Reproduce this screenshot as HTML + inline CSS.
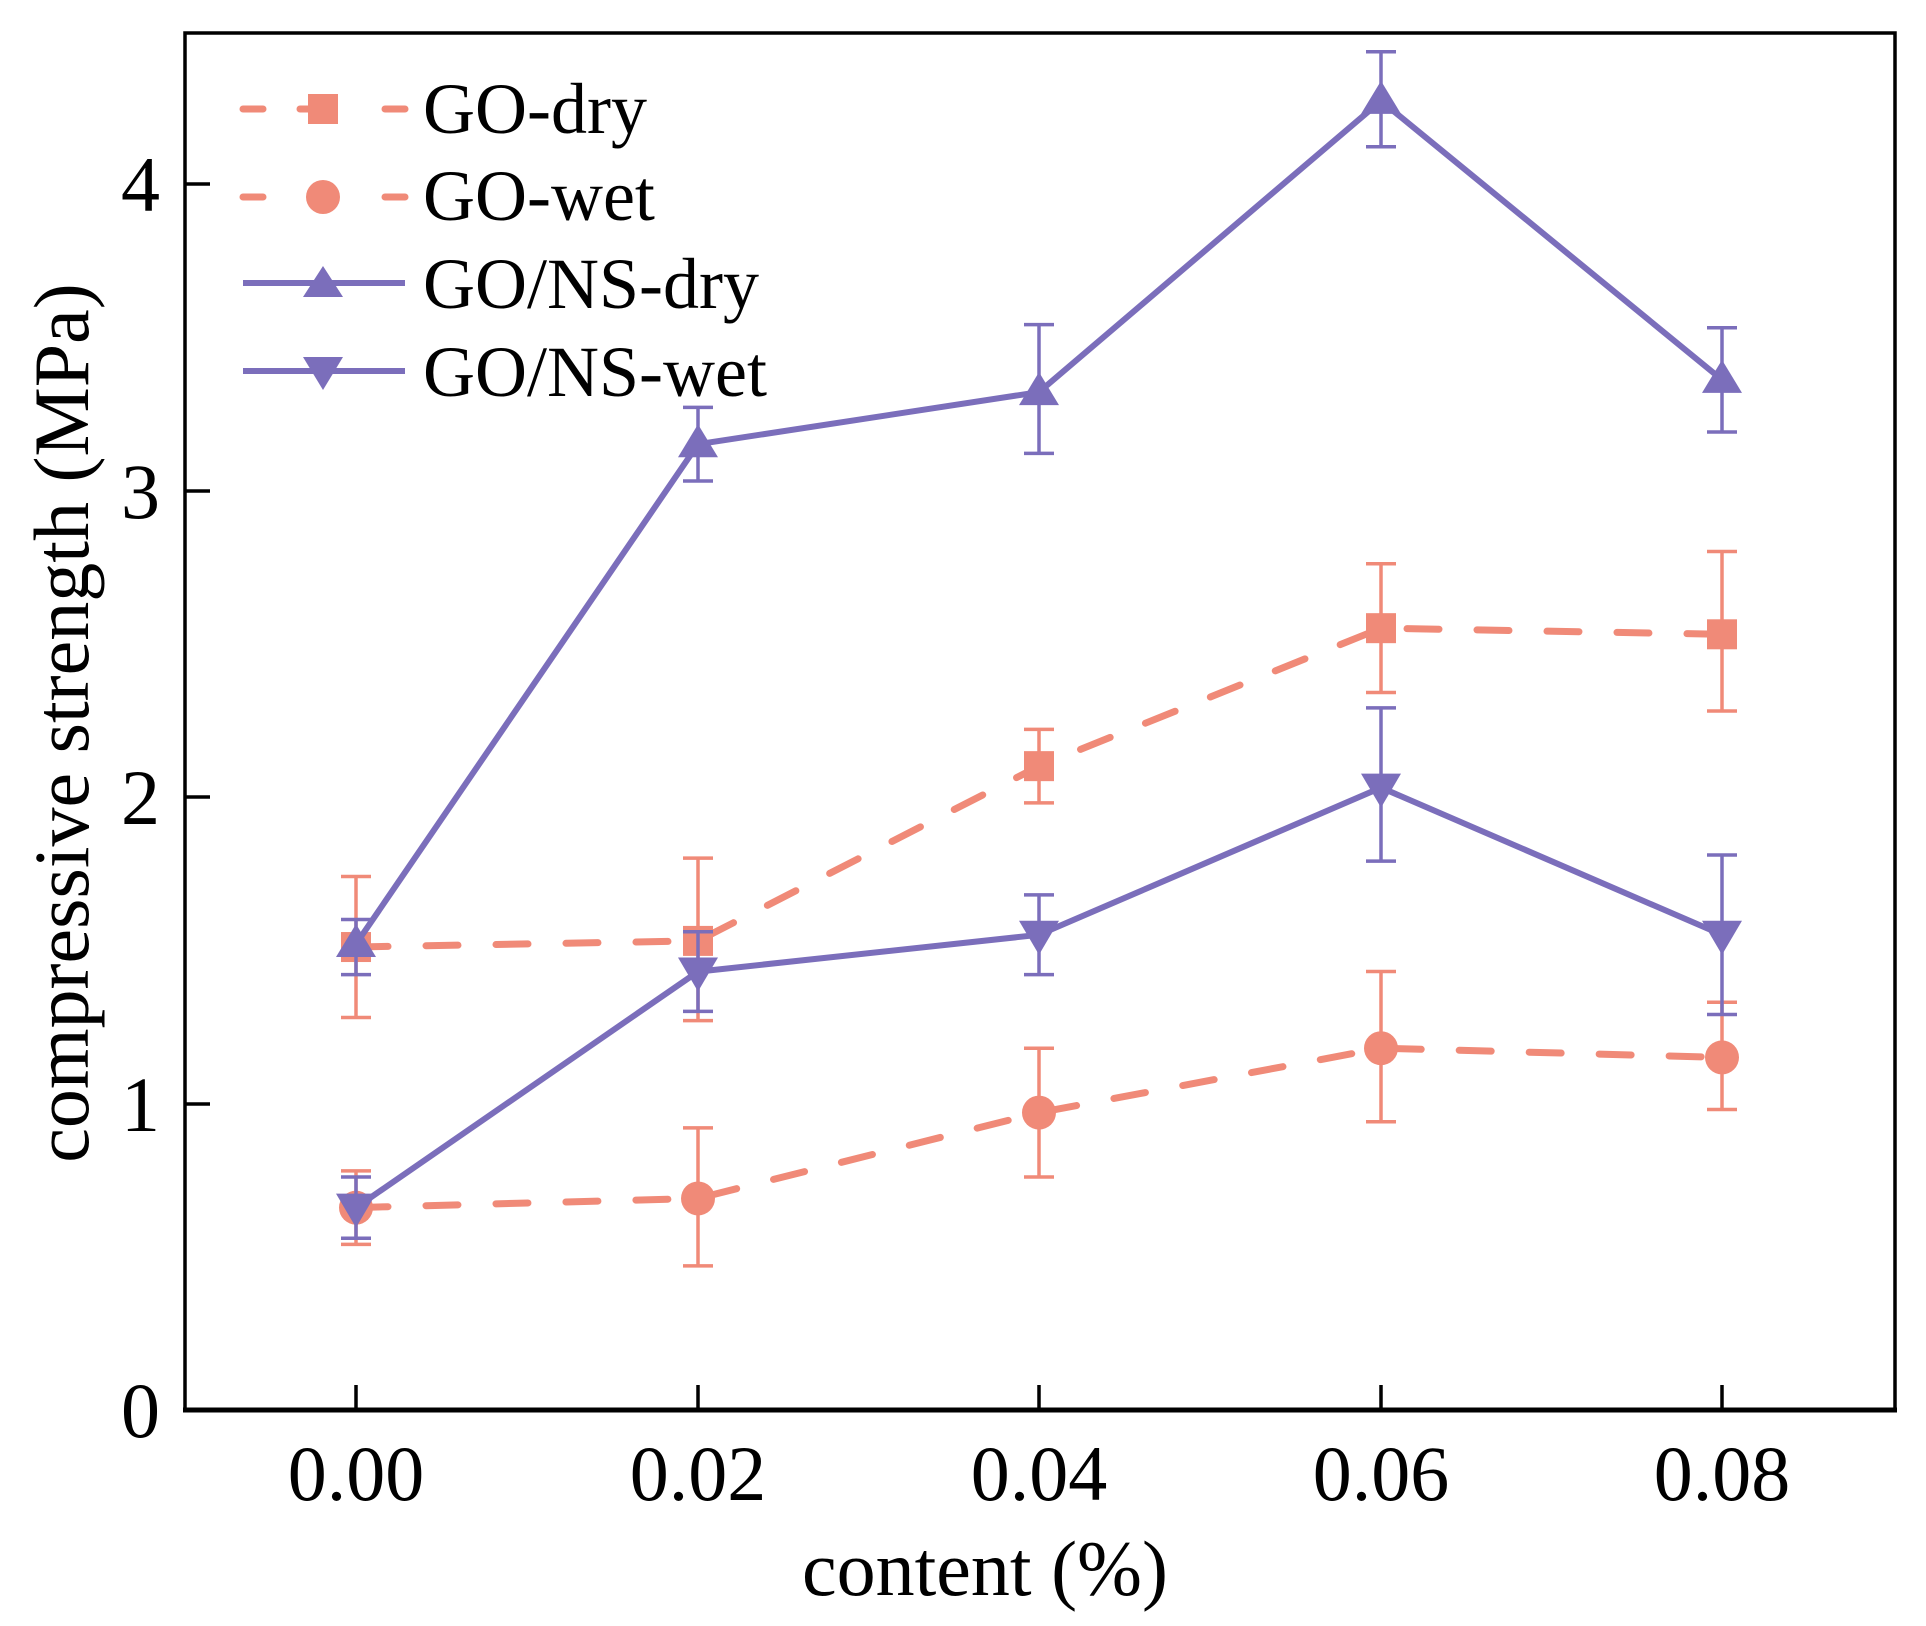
<!DOCTYPE html>
<html><head><meta charset="utf-8"><style>
html,body{margin:0;padding:0;background:#fff}
svg{display:block;font-family:"Liberation Serif",serif}
</style></head><body>
<svg id="s" width="1926" height="1626" viewBox="0 0 1926 1626" xmlns="http://www.w3.org/2000/svg">
<rect width="1926" height="1626" fill="#fff"/>
<g id="series"></g>
<rect x="185" y="33" width="1710" height="1377" fill="none" stroke="#000" stroke-width="3.5"/>
<line x1="183" y1="1410" x2="1897" y2="1410" stroke="#000" stroke-width="5"/>
<g stroke="#000" stroke-width="3.5">
<line x1="185" y1="1104" x2="210" y2="1104"/>
<line x1="185" y1="797" x2="210" y2="797"/>
<line x1="185" y1="491" x2="210" y2="491"/>
<line x1="185" y1="184" x2="210" y2="184"/>
<line x1="356" y1="1410" x2="356" y2="1385"/>
<line x1="698" y1="1410" x2="698" y2="1385"/>
<line x1="1039" y1="1410" x2="1039" y2="1385"/>
<line x1="1381" y1="1410" x2="1381" y2="1385"/>
<line x1="1722" y1="1410" x2="1722" y2="1385"/>
</g>
<g font-size="78" text-anchor="end" fill="#000">
<text x="160" y="1437">0</text>
<text x="160" y="1131">1</text>
<text x="160" y="824">2</text>
<text x="160" y="518">3</text>
<text x="160" y="211">4</text>
</g>
<g font-size="78" text-anchor="middle" fill="#000">
<text x="356" y="1500">0.00</text>
<text x="698" y="1500">0.02</text>
<text x="1039" y="1500">0.04</text>
<text x="1381" y="1500">0.06</text>
<text x="1722" y="1500">0.08</text>
<text x="985" y="1595">content (%)</text>
<text transform="translate(88,723) rotate(-90)">compressive strength (MPa)</text>
</g>
<g font-size="72" fill="#000">
<text x="423" y="133">GO-dry</text>
<text x="423" y="220">GO-wet</text>
<text x="423" y="308">GO/NS-dry</text>
<text x="423" y="396">GO/NS-wet</text>
</g>
<g stroke="#F08A78" stroke-width="7" stroke-linecap="round">
<line x1="243" y1="109" x2="263" y2="109"/><line x1="300" y1="109" x2="310" y2="109"/><line x1="385" y1="109" x2="405" y2="109"/>
<line x1="243" y1="197" x2="263" y2="197"/><line x1="385" y1="197" x2="405" y2="197"/>
</g>
<rect x="308" y="94" width="30" height="30" fill="#F08A78"/>
<circle cx="323" cy="197" r="17" fill="#F08A78"/>
<g stroke="#7B6EBB" stroke-width="6">
<line x1="243" y1="283" x2="405" y2="283"/>
<line x1="243" y1="371" x2="405" y2="371"/>
</g>
<polygon points="323,266 343,297 303,297" fill="#7B6EBB"/>
<polygon points="303,357 343,357 323,390" fill="#7B6EBB"/>
</svg>
<script>
var X=[356,698,1039,1381,1722];
function Y(v){return 1410-v*306.6;}
var S=[
{c:"#F08A78",d:true,m:"sq",v:[1.51,1.53,2.10,2.55,2.53],e:[[1.28,1.74],[1.27,1.80],[1.98,2.22],[2.34,2.76],[2.28,2.80]]},
{c:"#F08A78",d:true,m:"ci",v:[0.66,0.69,0.97,1.18,1.15],e:[[0.54,0.78],[0.47,0.92],[0.76,1.18],[0.94,1.43],[0.98,1.33]]},
{c:"#7B6EBB",d:false,m:"up",v:[1.52,3.15,3.32,4.27,3.36],e:[[1.42,1.60],[3.03,3.27],[3.12,3.54],[4.12,4.43],[3.19,3.53]]},
{c:"#7B6EBB",d:false,m:"dn",v:[0.66,1.43,1.55,2.03,1.55],e:[[0.56,0.76],[1.30,1.56],[1.42,1.68],[1.79,2.29],[1.29,1.81]]}
];
var h="";
S.forEach(function(s){
 var p=s.v.map(function(v,i){return X[i]+","+Y(v).toFixed(1)}).join(" ");
 h+='<polyline points="'+p+'" fill="none" stroke="'+s.c+'" stroke-width="'+(s.d?7:6)+'"'+(s.d?' stroke-dasharray="32 38" stroke-linecap="round"':'')+' stroke-linejoin="round"/>';
 s.e.forEach(function(e,i){var x=X[i],a=Y(e[0]),b=Y(e[1]);
  h+='<g stroke="'+s.c+'" stroke-width="3.5"><line x1="'+x+'" y1="'+a+'" x2="'+x+'" y2="'+b+'"/><line x1="'+(x-15)+'" y1="'+a+'" x2="'+(x+15)+'" y2="'+a+'"/><line x1="'+(x-15)+'" y1="'+b+'" x2="'+(x+15)+'" y2="'+b+'"/></g>';});
 s.v.forEach(function(v,i){var x=X[i],y=Y(v);
  if(s.m=="sq")h+='<rect x="'+(x-15)+'" y="'+(y-15)+'" width="30" height="30" fill="'+s.c+'"/>';
  if(s.m=="ci")h+='<circle cx="'+x+'" cy="'+y+'" r="17" fill="'+s.c+'"/>';
  if(s.m=="up")h+='<polygon points="'+x+','+(y-20)+' '+(x+20)+','+(y+13)+' '+(x-20)+','+(y+13)+'" fill="'+s.c+'"/>';
  if(s.m=="dn")h+='<polygon points="'+(x-20)+','+(y-14)+' '+(x+20)+','+(y-14)+' '+x+','+(y+20)+'" fill="'+s.c+'"/>';
 });
});
document.getElementById("series").innerHTML=h;
</script>
</body></html>
